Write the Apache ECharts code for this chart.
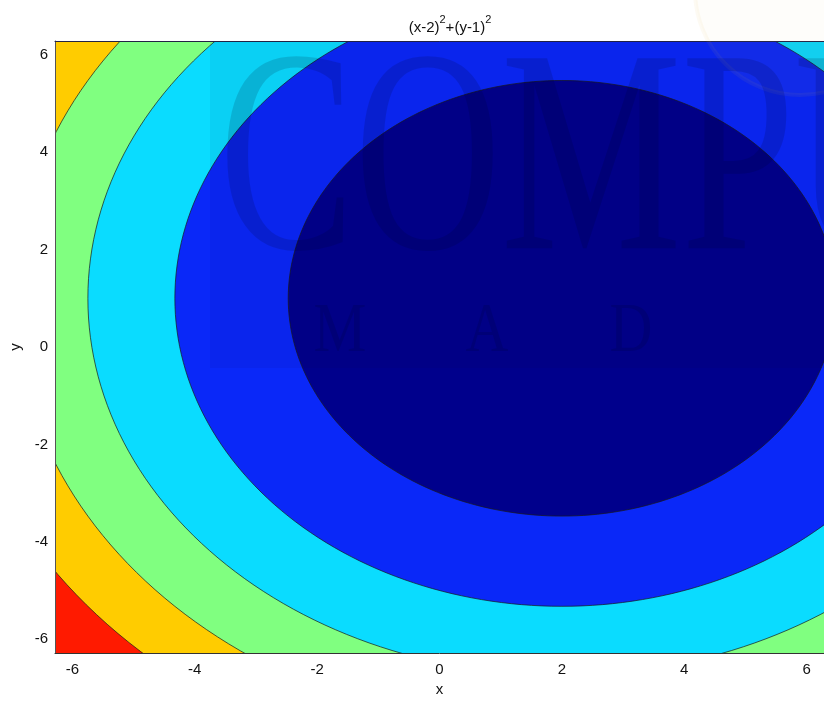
<!DOCTYPE html>
<html>
<head>
<meta charset="utf-8">
<script src="https://cdn.jsdelivr.net/npm/echarts@6/dist/echarts.min.js"></script>
<style>html,body{margin:0;padding:0;background:#fff}#c{width:824px;height:702px}</style>
</head>
<body>
<div id="c"></div>
<script>
// ---- data ----
const xRange = [-2 * Math.PI, 2 * Math.PI];
const yRange = [-2 * Math.PI, 2 * Math.PI];
const center = [2, 1];                       // minimum of (x-2)^2+(y-1)^2
const levels = [100, 80, 60, 40, 20];        // contour levels, outer to inner
const bandColors = ['#FF1A00', '#FFCC00', '#80FF80', '#0ADCFF', '#0A28F8', '#00008C']; // >100, 80-100, 60-80, 40-60, 20-40, <20
const xTicks = [-6, -4, -2, 0, 2, 4, 6];
const yTicks = [-6, -4, -2, 0, 2, 4, 6];
const titleParts = ['(x-2)', '2', '+(y-1)', '2'];

// ---- series data: outermost band first, then each level's enclosed region ----
const seriesData = [[-1, 0]].concat(levels.map((l, i) => [l, i + 1]));

const font = 'Liberation Sans, Arial, sans-serif';
const chart = echarts.init(document.getElementById('c'), null, { renderer: 'canvas' });

function renderItem(params, api) {
  const lvl = api.value(0);
  const ci = api.value(1);
  let points;
  if (lvl < 0) {
    points = [
      api.coord([xRange[0], yRange[0]]),
      api.coord([xRange[1], yRange[0]]),
      api.coord([xRange[1], yRange[1]]),
      api.coord([xRange[0], yRange[1]])
    ];
    return { type: 'polygon', shape: { points }, style: { fill: bandColors[ci], stroke: null } };
  }
  const r = Math.sqrt(lvl);
  points = [];
  const N = 240;
  for (let k = 0; k < N; k++) {
    const a = (k / N) * Math.PI * 2;
    points.push(api.coord([center[0] + r * Math.cos(a), center[1] + r * Math.sin(a)]));
  }
  return {
    type: 'polygon',
    shape: { points },
    style: { fill: bandColors[ci], stroke: '#1a1a1a', lineWidth: 0.7 }
  };
}

const axisCommon = {
  type: 'value',
  splitLine: { show: false },
  axisTick: { show: false },
  z: 10
};

const wmText = 'rgba(0,0,30,0.14)';

chart.setOption({
  animation: false,
  backgroundColor: '#ffffff',
  title: {
    text: '{m|' + titleParts[0] + '}{s|' + titleParts[1] + '}{m|' + titleParts[2] + '}{s|' + titleParts[3] + '}',
    left: 445,
    textAlign: 'center',
    top: 9,
    textStyle: {
      fontWeight: 'normal',
      rich: {
        m: { fontFamily: font, fontSize: 15, fontWeight: 'normal', color: '#111', verticalAlign: 'bottom', lineHeight: 21 },
        s: { fontFamily: font, fontSize: 11, fontWeight: 'normal', color: '#111', verticalAlign: 'top', lineHeight: 21, padding: [0, 0, 8, 0] }
      }
    }
  },
  grid: { left: 55, right: -11, top: 41, bottom: 45, show: false },
  xAxis: [
    Object.assign({}, axisCommon, {
      position: 'bottom',
      min: xRange[0], max: xRange[1],
      name: 'x', nameLocation: 'middle', nameGap: 29,
      nameTextStyle: { fontFamily: font, fontSize: 15, color: '#111' },
      axisLine: { show: true, onZero: false, lineStyle: { color: '#333', width: 1 } },
      axisLabel: { customValues: xTicks, fontFamily: font, fontSize: 15, color: '#111', margin: 9 }
    }),
    Object.assign({}, axisCommon, {
      position: 'top',
      min: xRange[0], max: xRange[1],
      axisLine: { show: true, onZero: false, lineStyle: { color: '#222244', width: 1 } },
      axisLabel: { show: false }
    })
  ],
  yAxis: [
    Object.assign({}, axisCommon, {
      position: 'left',
      min: yRange[0], max: yRange[1],
      name: 'y', nameLocation: 'middle', nameGap: 31, nameRotate: 90,
      nameTextStyle: { fontFamily: font, fontSize: 15, color: '#111' },
      axisLine: { show: true, onZero: false, lineStyle: { color: '#555', width: 1 } },
      axisLabel: { customValues: yTicks, fontFamily: font, fontSize: 15, color: '#111', margin: 7 }
    }),
    Object.assign({}, axisCommon, {
      position: 'right',
      min: yRange[0], max: yRange[1],
      axisLine: { show: true, onZero: false, lineStyle: { color: '#333', width: 1 } },
      axisLabel: { show: false }
    })
  ],
  series: [{
    type: 'custom',
    coordinateSystem: 'cartesian2d',
    xAxisIndex: 0,
    yAxisIndex: 0,
    clip: true,
    renderItem: renderItem,
    data: seriesData,
    silent: true
  }],
  graphic: [
    // faint watermark overlay present in the reference image
    { type: 'rect', z: 50, silent: true, shape: { x: 210, y: 42, width: 620, height: 326 }, style: { fill: 'rgba(10,0,40,0.05)' } },
    { type: 'text', z: 51, silent: true, x: 219, y: 172, scaleX: 0.7, originX: 0, originY: 0,
      style: { text: 'COMPUTER', font: '290px "Liberation Serif", serif', fill: wmText, verticalAlign: 'middle', align: 'left' } },
    { type: 'text', z: 51, silent: true, x: 340, y: 333, scaleX: 0.85, originX: 0, originY: 0, style: { text: 'M', font: '70px "Liberation Serif", serif', fill: wmText, verticalAlign: 'middle', align: 'center' } },
    { type: 'text', z: 51, silent: true, x: 487, y: 333, scaleX: 0.85, originX: 0, originY: 0, style: { text: 'A', font: '70px "Liberation Serif", serif', fill: wmText, verticalAlign: 'middle', align: 'center' } },
    { type: 'text', z: 51, silent: true, x: 631, y: 333, scaleX: 0.85, originX: 0, originY: 0, style: { text: 'D', font: '70px "Liberation Serif", serif', fill: wmText, verticalAlign: 'middle', align: 'center' } },
    { type: 'circle', z: 49, silent: true, shape: { cx: 800, cy: -10, r: 105 }, style: { fill: 'rgba(240,210,120,0.04)', stroke: 'rgba(220,185,90,0.07)', lineWidth: 4 } }
  ]
});
</script>
</body>
</html>
